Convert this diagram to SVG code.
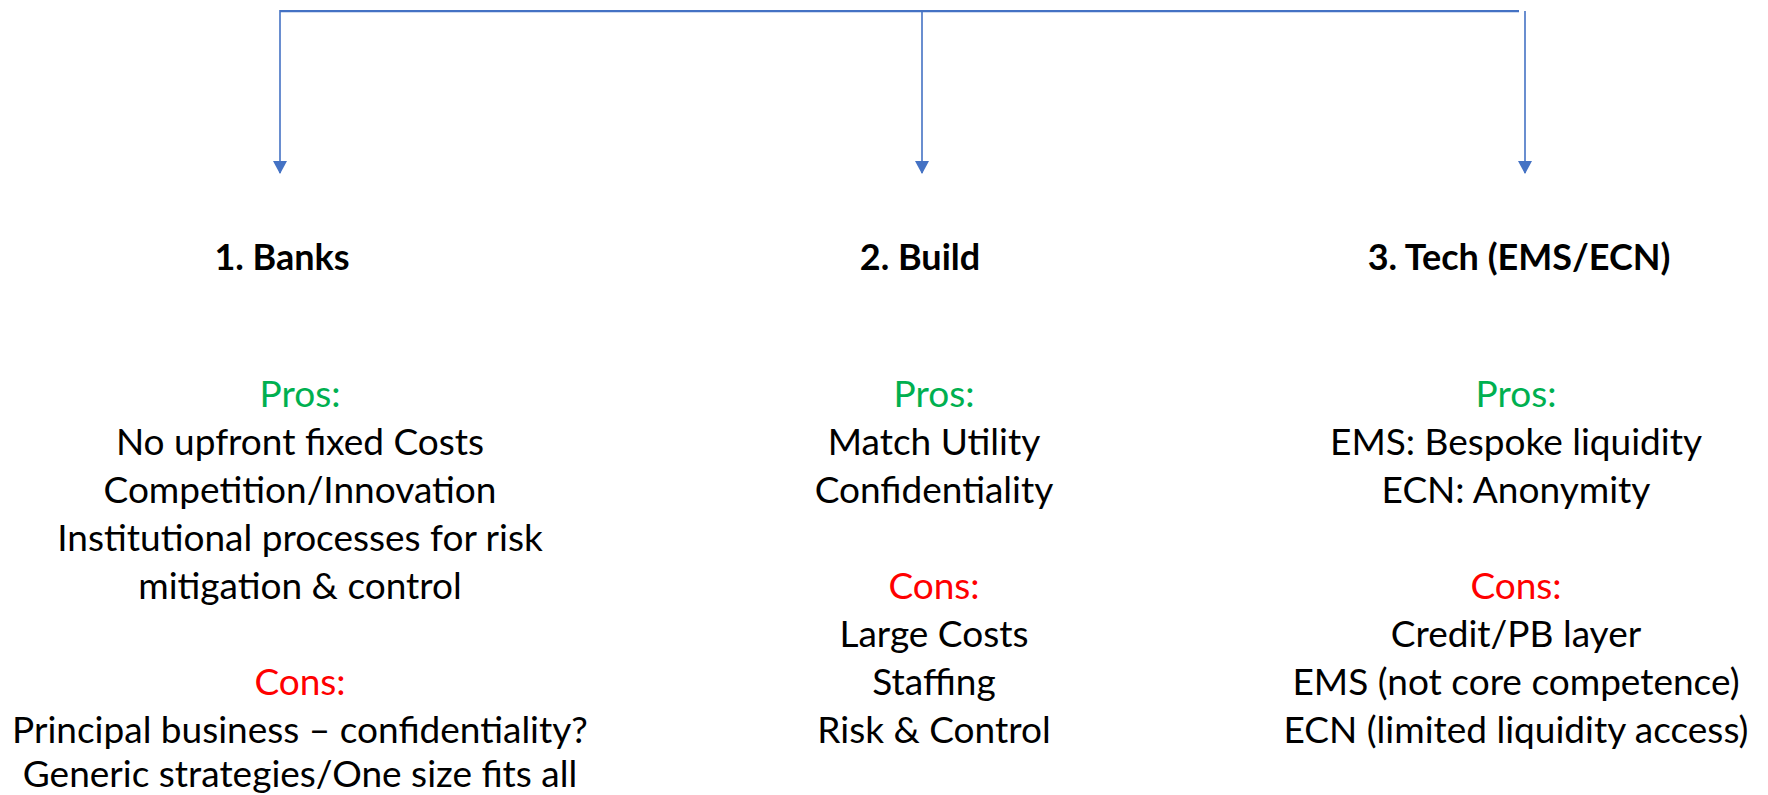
<svg xmlns="http://www.w3.org/2000/svg" width="1768" height="795" viewBox="0 0 1768 795">
<style>
text{font-family:Lato,"Liberation Sans",sans-serif;font-size:37px;fill:#000;text-anchor:middle}
.t{font-weight:bold;font-size:36px}
.pro{fill:#00B050}
.con{fill:#FF0000}
.ln{stroke:#4472C4;fill:none}
</style>
<defs>
<marker id="ah" markerUnits="userSpaceOnUse" markerWidth="14" markerHeight="14" refX="12" refY="7" orient="auto">
<path d="M0,0 L13,7 L0,14 Z" fill="#4472C4"/>
</marker>
</defs>
<rect width="1768" height="795" fill="#fff"/>
<g id="connectors">
<path class="ln" d="M280,11 H1519" stroke-width="2.25"/>
<path class="ln" d="M280,10 V173" stroke-width="1.6" marker-end="url(#ah)"/>
<path class="ln" d="M922,11 V173" stroke-width="1.6" marker-end="url(#ah)"/>
<path class="ln" d="M1525,11 V173" stroke-width="1.6" marker-end="url(#ah)"/>
</g>
<g id="banks">
<text class="t" x="282" y="270">1. Banks</text>
<text class="pro" x="300" y="407">Pros:</text>
<text x="300" y="455">No upfront fixed Costs</text>
<text x="300" y="503">Competition/Innovation</text>
<text x="300" y="551">Institutional processes for risk</text>
<text x="300" y="599">mitigation &amp; control</text>
<text class="con" x="300" y="695">Cons:</text>
<text x="300" y="743">Principal business – confidentiality?</text>
<text x="300" y="787">Generic strategies/One size fits all</text>
</g>
<g id="build">
<text class="t" x="920" y="270">2. Build</text>
<text class="pro" x="934" y="407">Pros:</text>
<text x="934" y="455">Match Utility</text>
<text x="934" y="503">Confidentiality</text>
<text class="con" x="934" y="599">Cons:</text>
<text x="934" y="647">Large Costs</text>
<text x="934" y="695">Staffing</text>
<text x="934" y="743">Risk &amp; Control</text>
</g>
<g id="tech">
<text class="t" x="1519" y="270">3. Tech (EMS/ECN)</text>
<text class="pro" x="1516" y="407">Pros:</text>
<text x="1516" y="455">EMS: Bespoke liquidity</text>
<text x="1516" y="503">ECN: Anonymity</text>
<text class="con" x="1516" y="599">Cons:</text>
<text x="1516" y="647">Credit/PB layer</text>
<text x="1516" y="695">EMS (not core competence)</text>
<text x="1516" y="743">ECN (limited liquidity access)</text>
</g>
</svg>
